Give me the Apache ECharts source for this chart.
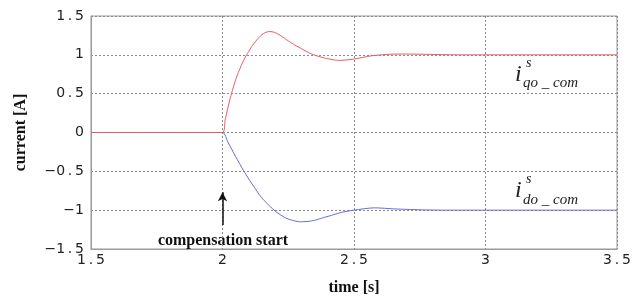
<!DOCTYPE html>
<html>
<head>
<meta charset="utf-8">
<script src="https://cdn.jsdelivr.net/npm/echarts@6/dist/echarts.min.js"></script>
<style>
  html, body { margin: 0; padding: 0; background: #fff; }
  #chart { width: 644px; height: 301px; }
</style>
</head>
<body>
<div id="chart"></div>
<script>
// q-axis compensation current: sample times [s] and values [A]
var timeQ = [1.5, 2.0, 2.01, 2.02, 2.03, 2.04, 2.05, 2.06, 2.075, 2.09, 2.11, 2.13, 2.15, 2.165, 2.18, 2.197, 2.215, 2.235, 2.25, 2.275, 2.3, 2.332, 2.36, 2.389, 2.42, 2.446, 2.5, 2.566, 2.64, 2.7, 2.8, 2.9, 3.5];
var iqo = [0, 0, 0.16, 0.31, 0.45, 0.57, 0.68, 0.77, 0.89, 0.99, 1.1, 1.19, 1.26, 1.29, 1.30, 1.29, 1.26, 1.215, 1.18, 1.126, 1.08, 1.02, 0.985, 0.958, 0.937, 0.928, 0.946, 0.987, 1.008, 1.01, 1.005, 1.0, 1.0];
// d-axis compensation current: sample times [s] and values [A]
var timeD = [1.5, 2.0, 2.02, 2.05, 2.08, 2.1, 2.12, 2.14, 2.16, 2.18, 2.2, 2.22, 2.24, 2.265, 2.294, 2.325, 2.351, 2.38, 2.414, 2.45, 2.5, 2.578, 2.654, 2.75, 2.85, 3.5];
var ido = [0, 0, -0.12, -0.31, -0.49, -0.6, -0.7, -0.8, -0.88, -0.95, -1.01, -1.06, -1.1, -1.13, -1.15, -1.145, -1.13, -1.1, -1.067, -1.03, -1.0, -0.97, -0.984, -0.995, -1.0, -1.0];

function pairs(ts, vals) {
  return ts.map(function (t, i) { return [t, vals[i]]; });
}
// matlab-ish spaced tick text
function tickText(v) {
  var s = String(Math.abs(v)).replace('.', '\u2009.\u2009');
  return (v < 0 ? '\u2212' : '') + s;
}

var myChart = echarts.init(document.getElementById('chart'));
var gridLine = { show: true, lineStyle: { color: '#8a8a8a', type: [2, 2], width: 1 } };
var tickFont = { fontFamily: 'DejaVu Sans', fontSize: 14, color: '#222' };
var titleFont = { fontFamily: 'Liberation Serif', fontWeight: 'bold', fontSize: 16, color: '#111' };

myChart.setOption({
  animation: false,
  backgroundColor: '#fff',
  grid: { left: 91, right: 27, top: 16, bottom: 48, show: true, borderColor: '#999', borderWidth: 1 },
  xAxis: {
    type: 'value', min: 1.5, max: 3.5, interval: 0.5,
    axisLine: { show: true, onZero: false, lineStyle: { color: '#999' } },
    axisTick: { show: false },
    splitLine: gridLine,
    axisLabel: Object.assign({ margin: 4, formatter: tickText }, tickFont),
    name: 'time [s]', nameLocation: 'middle', nameGap: 31,
    nameTextStyle: titleFont
  },
  yAxis: {
    type: 'value', min: -1.5, max: 1.5, interval: 0.5,
    axisLine: { show: true, onZero: false, lineStyle: { color: '#999' } },
    axisTick: { show: false },
    splitLine: gridLine,
    axisLabel: Object.assign({ margin: 7, formatter: tickText }, tickFont),
    name: 'current [A]', nameLocation: 'middle', nameGap: 62,
    nameTextStyle: titleFont
  },
  series: [
    {
      name: 'ido', type: 'line', data: pairs(timeD, ido), showSymbol: false, smooth: 0.25,
      lineStyle: { color: '#6a6ade', width: 1 }, z: 3,
      markLine: {
        silent: true, animation: false,
        symbol: ['none', 'arrow'], symbolSize: [7, 9],
        lineStyle: { color: '#111', type: 'solid', width: 1.5 },
        label: { show: false },
        data: [[{ coord: [2, -1.19] }, { coord: [2, -0.77] }]]
      }
    },
    {
      name: 'iqo', type: 'line', data: pairs(timeQ, iqo), showSymbol: false, smooth: 0.25,
      lineStyle: { color: '#e85a63', width: 1 }, z: 4
    }
  ],
  graphic: [
    { type: 'text', x: 223, y: 233, style: { text: 'compensation start', font: 'bold 16px "Liberation Serif"', fill: '#111', textAlign: 'center' } },
    { type: 'text', x: 515, y: 63, style: { text: 'i', font: 'italic 24px "Liberation Serif"', fill: '#222' } },
    { type: 'text', x: 526, y: 56, style: { text: 's', font: 'italic 14px "Liberation Serif"', fill: '#222' } },
    { type: 'text', x: 523, y: 76, style: { text: 'qo _ com', font: 'italic 15px "Liberation Serif"', fill: '#222' } },
    { type: 'text', x: 515, y: 179, style: { text: 'i', font: 'italic 24px "Liberation Serif"', fill: '#222' } },
    { type: 'text', x: 526, y: 172, style: { text: 's', font: 'italic 14px "Liberation Serif"', fill: '#222' } },
    { type: 'text', x: 523, y: 193, style: { text: 'do _ com', font: 'italic 15px "Liberation Serif"', fill: '#222' } }
  ]
});
window.addEventListener('resize', function () { myChart.resize(); });
</script>
</body>
</html>
